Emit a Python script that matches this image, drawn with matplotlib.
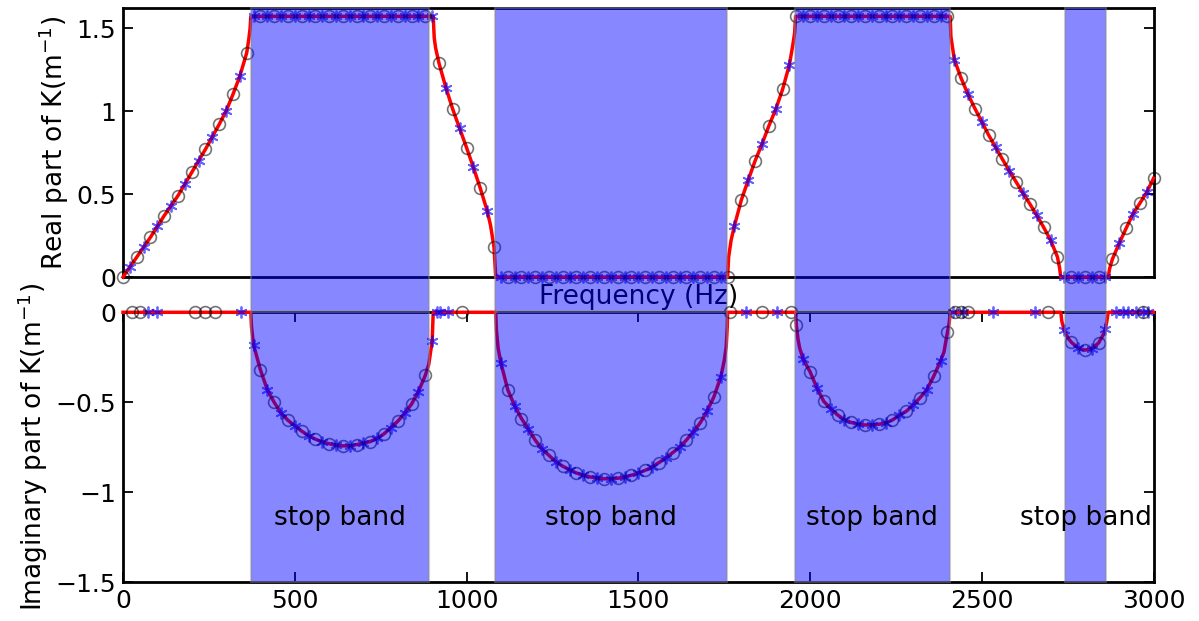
import numpy as np
import matplotlib
matplotlib.use("Agg")
import matplotlib.pyplot as plt

# -------------------------------------------------
# wave number K of a periodic duct: real and imaginary parts
# values
# -------------------------------------------------

freq = [0, 20, 40, 60, 80, 100, 120, 140, 160, 180, 200, 220, 240, 260, 280, 300, 320, 340, 360, 366, 370, 372,
        374, 380, 400, 420, 440, 460, 480, 500, 520, 540, 560, 580, 600, 620, 640, 660, 680, 700, 720, 740,
        760, 780, 800, 820, 840, 860, 880, 890, 900, 903,
        906, 910, 920, 940, 960, 980, 1000, 1020, 1040, 1060, 1070, 1080, 1083, 1085,
        1087, 1092, 1100, 1120, 1140, 1160, 1180, 1200, 1220, 1240, 1260, 1280, 1300, 1320, 1340, 1360, 1380,
        1400, 1420, 1440, 1460, 1480, 1500, 1520, 1540, 1560, 1580, 1600, 1620, 1640, 1660, 1680, 1700, 1720,
        1740, 1750, 1756, 1759, 1760,
        1763, 1770, 1780, 1800, 1820, 1840, 1860, 1880, 1900, 1920, 1940, 1950, 1955, 1958,
        1960, 1965, 1970, 1980, 2000, 2020, 2040, 2060, 2080, 2100, 2120, 2140, 2160, 2180, 2200, 2220, 2240,
        2260, 2280, 2300, 2320, 2340, 2360, 2380, 2390, 2400, 2405, 2408,
        2410, 2420, 2440, 2460, 2480, 2500, 2520, 2540, 2560, 2580, 2600, 2620, 2640, 2660, 2680, 2700, 2720,
        2726, 2730,
        2733, 2740, 2750, 2760, 2780, 2800, 2820, 2840, 2855, 2860, 2864, 2868,
        2872, 2880, 2900, 2920, 2940, 2960, 2980, 3000]

re_k = [0, 0.06, 0.12, 0.18, 0.24, 0.305, 0.37, 0.43, 0.49, 0.56, 0.63, 0.70, 0.77, 0.845, 0.92, 1.00, 1.10, 1.21, 1.35, 1.43, 1.50, 1.5708,
        1.5708, 1.5708, 1.5708, 1.5708, 1.5708, 1.5708, 1.5708, 1.5708, 1.5708, 1.5708, 1.5708, 1.5708, 1.5708, 1.5708, 1.5708, 1.5708,
        1.5708, 1.5708, 1.5708, 1.5708, 1.5708, 1.5708, 1.5708, 1.5708, 1.5708, 1.5708, 1.5708, 1.5708, 1.5708, 1.5708,
        1.44, 1.38, 1.287, 1.14, 1.01, 0.895, 0.78, 0.66, 0.535, 0.40, 0.31, 0.18, 0.07, 0,
        0, 0, 0, 0, 0, 0, 0, 0, 0, 0, 0, 0, 0, 0, 0, 0, 0,
        0, 0, 0, 0, 0, 0, 0, 0, 0, 0, 0, 0, 0, 0, 0, 0, 0,
        0, 0, 0, 0, 0,
        0.12, 0.22, 0.31, 0.464, 0.584, 0.70, 0.80, 0.91, 1.01, 1.13, 1.28, 1.40, 1.47, 1.5708,
        1.5708, 1.5708, 1.5708, 1.5708, 1.5708, 1.5708, 1.5708, 1.5708, 1.5708, 1.5708, 1.5708, 1.5708, 1.5708, 1.5708, 1.5708, 1.5708, 1.5708,
        1.5708, 1.5708, 1.5708, 1.5708, 1.5708, 1.5708, 1.5708, 1.5708, 1.5708, 1.5708, 1.5708,
        1.45, 1.31, 1.197, 1.10, 1.015, 0.935, 0.855, 0.782, 0.71, 0.64, 0.572, 0.505, 0.44, 0.372, 0.30, 0.223, 0.122,
        0.06, 0,
        0, 0, 0, 0, 0, 0, 0, 0, 0, 0, 0, 0,
        0.05, 0.107, 0.203, 0.293, 0.38, 0.444, 0.51, 0.595]

im_k = [0, 0, 0, 0, 0, 0, 0, 0, 0, 0, 0, 0, 0, 0, 0, 0, 0, 0, 0, 0, 0, 0,
        -0.08, -0.18, -0.32, -0.43, -0.50, -0.56, -0.60, -0.63, -0.66, -0.685, -0.705, -0.72, -0.73, -0.738, -0.742, -0.742, -0.735, -0.727, -0.718, -0.70,
        -0.675, -0.64, -0.605, -0.56, -0.51, -0.44, -0.35, -0.29, -0.16, 0,
        0, 0, 0, 0, 0, 0, 0, 0, 0, 0, 0, 0, 0, 0,
        -0.10, -0.20, -0.28, -0.43, -0.52, -0.59, -0.65, -0.71, -0.76, -0.795, -0.83, -0.855, -0.875, -0.893, -0.905, -0.915, -0.92,
        -0.925, -0.925, -0.922, -0.915, -0.905, -0.893, -0.878, -0.86, -0.835, -0.81, -0.78, -0.75, -0.71, -0.665, -0.615, -0.55, -0.47,
        -0.36, -0.27, -0.19, -0.08, 0,
        0, 0, 0, 0, 0, 0, 0, 0, 0, 0, 0, 0, 0, 0,
        -0.07, -0.15, -0.20, -0.26, -0.33, -0.42, -0.495, -0.535, -0.57, -0.597, -0.612, -0.622, -0.626, -0.626, -0.622, -0.615, -0.598,
        -0.572, -0.55, -0.515, -0.475, -0.43, -0.355, -0.27, -0.22, -0.11, -0.06, 0,
        0, 0, 0, 0, 0, 0, 0, 0, 0, 0, 0, 0, 0, 0, 0, 0, 0,
        0, 0,
        -0.05, -0.10, -0.14, -0.165, -0.198, -0.21, -0.203, -0.17, -0.12, -0.09, -0.05, 0,
        0, 0, 0, 0, 0, 0, 0, 0]

# markers sitting on the zero line of the imaginary plot
circle_zero_freq = [25, 49, 210, 239, 268, 988, 1766, 1859, 1946, 2421, 2440, 2460, 2692, 2969]
star_zero_freq = [73, 98, 343, 913, 924, 947, 1815, 1904, 2416, 2445, 2533, 2654, 2891, 2910, 2925,
                  2950, 2969, 2984]

band_lo = [372, 1082, 1955, 2743]
band_hi = [891, 1757, 2406, 2862]
band_text = "stop band"

real_ticks = [0, 0.5, 1, 1.5]
real_labels = ["0", "0.5", "1", "1.5"]
imag_ticks = [-1.5, -1, -0.5, 0]
imag_labels = ["\u22121.5", "\u22121", "\u22120.5", "0"]
freq_ticks = [0, 500, 1000, 1500, 2000, 2500, 3000]

plt.rcParams["font.family"] = "DejaVu Sans"
plt.rcParams["font.size"] = 19
plt.rcParams["axes.linewidth"] = 2.0

span_face = (0, 0, 1, 0.47)
span_edge = (0.55, 0.55, 0.55, 0.45)
star_color = (0, 0, 1, 0.6)
circle_color = (0, 0, 0, 0.55)

# -------------------------------------------------

def draw_curves(ax, f, k, f_circ, k_circ, f_star, k_star):
    ax.plot(f, k, "-", color="red", lw=2.5, zorder=3, clip_on=False)
    ax.plot(f_star, k_star, linestyle="none", marker=(6, 2, 0), ms=8.5, mew=1.3,
            mec=star_color, zorder=4, clip_on=False)
    ax.plot(f_circ, k_circ, linestyle="none", marker="o", ms=8.5, mew=1.2,
            mfc="none", mec=circle_color, zorder=5, clip_on=False)


def shade_bands(ax, ymin):
    for lo, hi in zip(band_lo, band_hi):
        ax.axvspan(lo, hi, ymin=ymin, ymax=1, facecolor=span_face, edgecolor=span_edge,
                   lw=1.5, zorder=10, clip_on=False)

# -------------------------------------------------

def main():
    f = np.array(freq)
    re = np.array(re_k)
    im = np.array(im_k)

    is_circ = f % 40 == 0
    is_star = f % 40 == 20
    in_band = im != 0

    fig = plt.figure(figsize=(11.99, 6.21), dpi=100)
    ax1 = fig.add_axes([0.1026, 0.5539, 0.8595, 0.4332])
    ax2 = fig.add_axes([0.1026, 0.0623, 0.8595, 0.4348])

    # real part
    draw_curves(ax1, f, re, f[is_circ], re[is_circ], f[is_star], re[is_star])
    ax1.set_xlim(0, 3000)
    ax1.set_ylim(0, 1.6208)
    ax1.set_yticks(real_ticks)
    ax1.set_yticklabels(real_labels)
    ax1.tick_params(axis="x", bottom=False, top=False, labelbottom=False)
    ax1.tick_params(axis="y", direction="in", left=True, right=True, length=7, width=1.3,
                    labelsize=18, pad=5)
    ax1.set_xlabel("Frequency (Hz)", labelpad=5)
    ax1.set_ylabel("Real part of K(m$^{-1}$)")
    shade_bands(ax1, -0.131)

    # imaginary part
    zero_c = np.zeros(len(circle_zero_freq))
    zero_s = np.zeros(len(star_zero_freq))
    fc = np.concatenate([f[is_circ & in_band], circle_zero_freq])
    kc = np.concatenate([im[is_circ & in_band], zero_c])
    fs = np.concatenate([f[is_star & in_band], star_zero_freq])
    ks = np.concatenate([im[is_star & in_band], zero_s])
    draw_curves(ax2, f, im, fc, kc, fs, ks)
    ax2.set_xlim(0, 3000)
    ax2.set_ylim(-1.5, 0)
    ax2.set_xticks(freq_ticks)
    ax2.set_xticklabels([str(t) for t in freq_ticks])
    ax2.set_yticks(imag_ticks)
    ax2.set_yticklabels(imag_labels)
    ax2.tick_params(direction="in", top=True, right=True, length=7, width=1.3,
                    labelsize=18, pad=5)
    ax2.set_ylabel("Imaginary part of K(m$^{-1}$)")
    shade_bands(ax2, 0)

    for lo, hi in zip(band_lo, band_hi):
        ax2.text((lo + hi) / 2, -1.14, band_text, ha="center", va="center", zorder=11)

    fig.savefig("out.png", dpi=100, facecolor="white")

# -------------------------------------------------

main()
